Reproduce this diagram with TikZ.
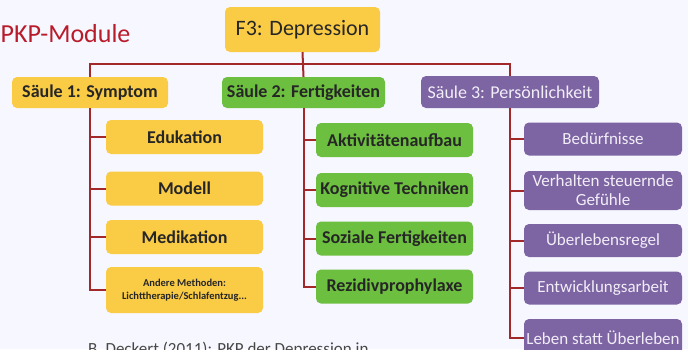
\documentclass[tikz,border=0pt]{standalone}
\usepackage{fontspec}
\setmainfont{Carlito}
\usetikzlibrary{positioning}

\definecolor{symyellow}{HTML}{FACB45}
\definecolor{fertgreen}{HTML}{6CBF3F}
\definecolor{perspurple}{HTML}{7D64A3}
\definecolor{perstext}{HTML}{F2EEF8}
\definecolor{linkred}{HTML}{A3282A}
\definecolor{titlered}{HTML}{B81C2B}
\definecolor{darktext}{HTML}{262626}

\begin{document}
\begin{tikzpicture}[
    x=1pt, y=-1pt,
    box/.style={rounded corners=5pt, minimum width=157pt, minimum height=34pt,
                inner sep=0pt, align=center, text=darktext,
                font=\bfseries\fontsize{18}{18}\selectfont},
    sym/.style={box, fill=symyellow},
    fert/.style={box, fill=fertgreen},
    pers/.style={box, fill=perspurple, text=perstext, minimum width=158pt,
                 minimum height=33pt, font=\fontsize{17}{17}\selectfont},
    link/.style={draw=linkred, line width=2pt}
  ]
  \clip (0,0) rectangle (688,349);
  \fill[white!97!blue] (0,0) rectangle (688,349);

  % Title
  \node[anchor=base west, inner sep=0pt, text=titlered,
        font=\fontsize{26}{26}\selectfont] (title) at (0.5,42) {PKP-Module};
  \node[box, fill=symyellow, minimum width=155pt, minimum height=45pt,
        font=\fontsize{22}{22}\selectfont] (f3) at (302.5,29.5) {F3: Depression};

  % Pillars
  \node[sym, minimum width=156pt, minimum height=31pt] (s1) at (90,92.5) {Säule 1: Symptom};
  \node[fert, minimum width=163pt, minimum height=31pt] (s2) at (303.5,92.5) {Säule 2: Fertigkeiten};
  \node[pers, minimum width=178pt, minimum height=32pt,
        font=\fontsize{18}{18}\selectfont] (s3) at (510,92) {Säule 3: Persönlichkeit};

  % Pillar 1
  \node[sym] (p1a) at (184.5,137) {Edukation};
  \node[sym] (p1b) at (184.5,188.5) {Modell};
  \node[sym] (p1c) at (184.5,237) {Medikation};
  \node[sym, minimum height=46pt, font=\bfseries\fontsize{10.5}{13}\selectfont]
        (p1d) at (184.5,290) {Andere Methoden:\\Lichttherapie/Schlafentzug...};

  % Pillar 2
  \node[fert] (p2a) at (394.5,140) {Aktivitätenaufbau};
  \node[fert] (p2b) at (394.5,190) {Kognitive Techniken};
  \node[fert] (p2c) at (394.5,238.5) {Soziale Fertigkeiten};
  \node[fert] (p2d) at (394.5,286.5) {Rezidivprophylaxe};

  % Pillar 3
  \node[pers] (p3a) at (603,139) {Bedürfnisse};
  \node[pers, minimum height=39pt, font=\fontsize{17}{19}\selectfont]
        (p3b) at (603,190.5) {Verhalten steuernde\\Gefühle};
  \node[pers] (p3c) at (603,240.5) {Überlebensregel};
  \node[pers] (p3d) at (603,288) {Entwicklungsarbeit};
  \node[pers, minimum height=38pt] (p3e) at (603,338) {Leben statt Überleben};

  % Connections
  \coordinate (bar) at (303.5,64);
  \draw[link] (s1.north) |- (bar) -| (s3.north);
  \draw[link] (f3.south) -- (s2.north);
  \foreach \p in {p1a,p1b,p1c,p1d} {
    \draw[link] (s1.south) |- (\p.west);
  }
  \foreach \p in {p2a,p2b,p2c,p2d} {
    \draw[link] (s2.south) |- (\p.west);
  }
  \foreach \p in {p3a,p3b,p3c,p3d,p3e} {
    \draw[link] (s3.south) |- (\p.west);
  }

  % Source
  \node[anchor=base west, inner sep=0pt, text=darktext!85,
        font=\fontsize{17}{17}\selectfont] (src) at (88,354)
        {B. Deckert (2011): PKP der Depression in};
\end{tikzpicture}
\end{document}
